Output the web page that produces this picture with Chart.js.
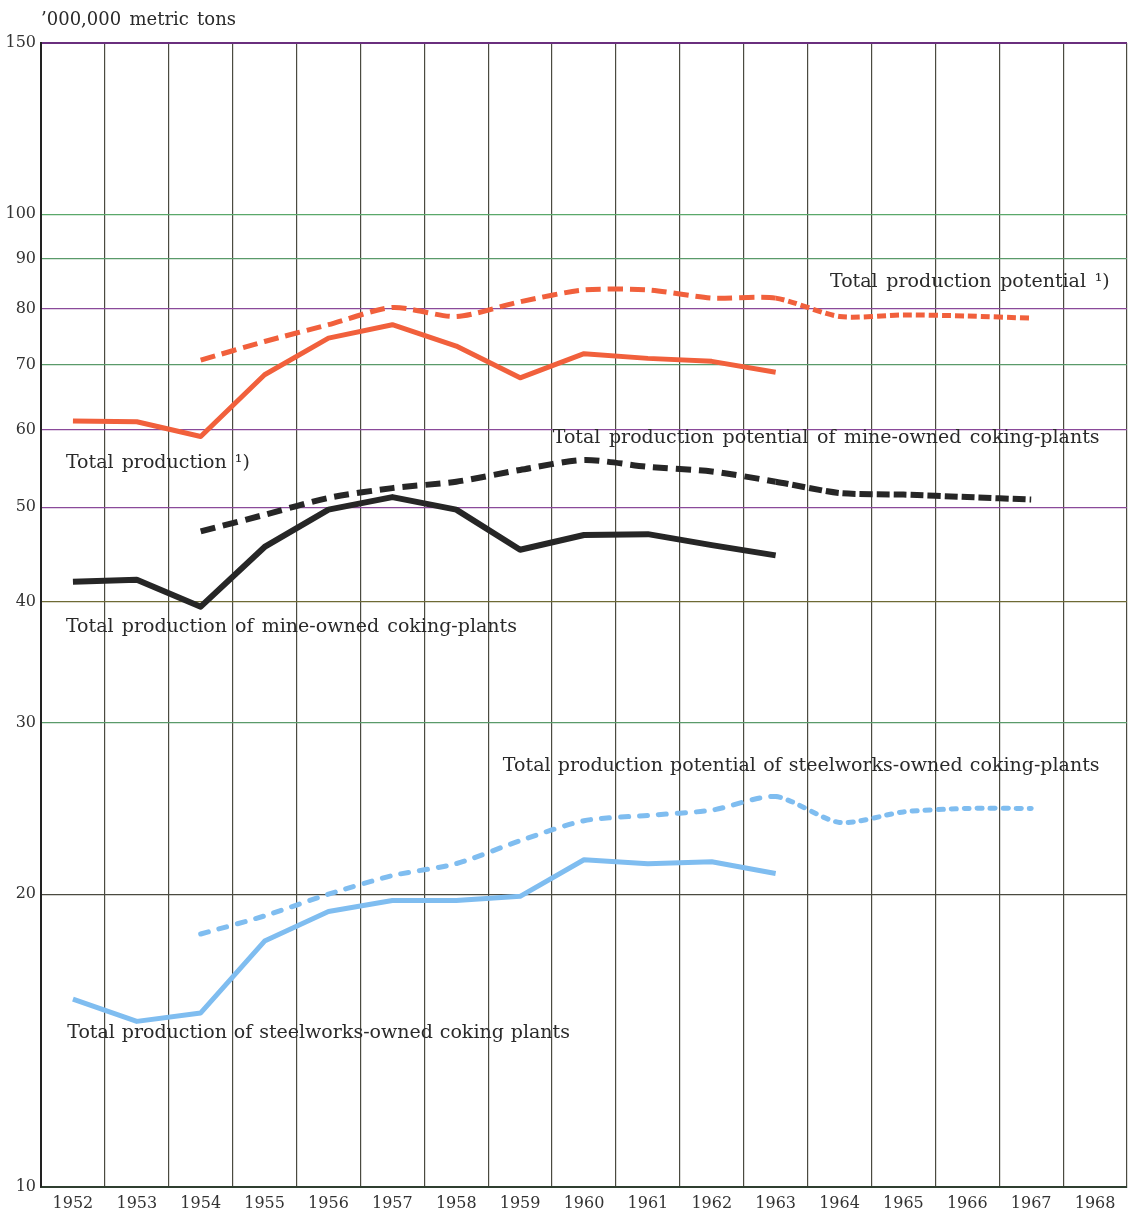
<!DOCTYPE html>
<html>
<head>
<meta charset="utf-8">
<script src="https://cdn.jsdelivr.net/npm/chart.js@4/dist/chart.umd.min.js"></script>
<style>
  html, body { margin: 0; padding: 0; background: #ffffff; }
  #wrap { width: 1129px; height: 1214px; position: relative; }
</style>
</head>
<body>
<div id="wrap"><canvas id="coke" width="1129" height="1214"></canvas></div>
<script>
// Coke production and production potential, '000,000 metric tons (log scale)
const years = ['1952','1953','1954','1955','1956','1957','1958','1959','1960','1961','1962','1963','1964','1965','1966','1967','1968'];

const totalProduction   = [61.3, 61.2, 59.1, 68.4, 74.6, 77.0, 73.2, 67.9, 71.9, 71.1, 70.6, 68.8, null, null, null, null, null];
const totalPotential    = [null, null, 70.8, 74.0, 77.0, 80.2, 78.5, 81.3, 83.6, 83.6, 82.0, 82.0, 78.5, 78.8, 78.6, 78.2, null];
const mineProduction    = [41.9, 42.1, 39.5, 45.5, 49.7, 51.2, 49.7, 45.2, 46.8, 46.9, 45.7, 44.6, null, null, null, null, null];
const minePotential     = [null, null, 47.2, 49.1, 51.1, 52.3, 53.1, 54.6, 55.9, 55.0, 54.4, 53.1, 51.7, 51.5, 51.2, 50.9, null];
const steelProduction   = [15.6, 14.8, 15.1, 17.9, 19.2, 19.7, 19.7, 19.9, 21.7, 21.5, 21.6, 21.0, null, null, null, null, null];
const steelPotential    = [null, null, 18.2, 19.0, 20.0, 20.9, 21.5, 22.7, 23.8, 24.1, 24.4, 25.2, 23.7, 24.3, 24.5, 24.5, null];

const yTicks = [10, 20, 30, 40, 50, 60, 70, 80, 90, 100, 150];
const unitLabel = '\u2019000,000 metric tons';

// Series captions, placed in data coordinates (category index span, value)
const captionText = [
  'Total production potential \u00b9)',
  'Total production \u00b9)',
  'Total production potential of mine-owned coking-plants',
  'Total production of mine-owned coking-plants',
  'Total production potential of steelworks-owned coking-plants',
  'Total production of steelworks-owned coking plants'
];
const captionFrom  = [11.85, -0.11, 7.51, -0.11, 6.73, -0.09];
const captionTo    = [16.23,  2.77, 16.07, 6.95, 16.07, 7.78];
const captionValue = [85.2, 55.5, 58.9, 37.6, 27.1, 14.4];

const RED = '#f1603c';
const BLACK = '#262626';
const BLUE = '#7fbdf0';
const SERIF = '"DejaVu Serif", "Liberation Serif", serif';

// horizontal rule colours per tick value
const gridColour = {
  10: '#3c4a3a', 20: '#4a4a40', 30: '#5a9a6a', 40: '#6e6a34', 50: '#8a4a9a',
  60: '#8a4a9a', 70: '#5a9a6a', 80: '#8a4a9a', 90: '#5a9a6a', 100: '#5aa86a', 150: '#6a2f7e'
};

function drawSpread(ctx, text, x0, x1, y) {
  const words = text.split(' ');
  const widths = words.map(w => ctx.measureText(w).width);
  const total = widths.reduce((a, b) => a + b, 0);
  const gaps = words.length - 1;
  const gap = gaps > 0 ? Math.max(ctx.measureText(' ').width * 0.8, (x1 - x0 - total) / gaps) : 0;
  let x = x0;
  words.forEach((w, i) => {
    ctx.fillText(w, x, y);
    x += widths[i] + gap;
  });
}

const captions = {
  id: 'captions',
  afterDraw(chart) {
    const { ctx, scales: { x, y } } = chart;
    ctx.save();
    ctx.fillStyle = '#2a2a2a';
    ctx.textBaseline = 'middle';
    ctx.textAlign = 'left';
    ctx.font = '19px ' + SERIF;
    captionText.forEach((t, i) => {
      drawSpread(ctx, t, x.getPixelForValue(captionFrom[i]), x.getPixelForValue(captionTo[i]), y.getPixelForValue(captionValue[i]));
    });
    ctx.font = '18px ' + SERIF;
    ctx.textBaseline = 'alphabetic';
    drawSpread(ctx, unitLabel, chart.chartArea.left, chart.chartArea.left + 195, 25);
    ctx.restore();
  }
};

function line(label, data, colour, width, dash, lateDash, cap) {
  return {
    label, data,
    borderColor: colour,
    backgroundColor: colour,
    borderWidth: width,
    borderDash: dash || [],
    borderCapStyle: cap || 'butt',
    borderJoinStyle: 'round',
    pointRadius: 0,
    tension: dash ? 0.25 : 0,
    fill: false,
    segment: lateDash ? { borderDash: c => (c.p0DataIndex >= 11 ? lateDash : dash) } : undefined
  };
}

new Chart(document.getElementById('coke'), {
  type: 'line',
  data: {
    labels: years,
    datasets: [
      line('Total production potential', totalPotential, RED, 5, [15, 7], [9, 4]),
      line('Total production', totalProduction, RED, 5),
      line('Total production potential of mine-owned coking-plants', minePotential, BLACK, 6, [15, 8], [13, 4]),
      line('Total production of mine-owned coking-plants', mineProduction, BLACK, 6),
      line('Total production potential of steelworks-owned coking-plants', steelPotential, BLUE, 5, [8, 11], [5, 8], 'round'),
      line('Total production of steelworks-owned coking plants', steelProduction, BLUE, 5)
    ]
  },
  options: {
    responsive: false,
    animation: false,
    devicePixelRatio: 1,
    layout: { padding: { top: 43, right: 2, left: 0, bottom: 0 } },
    plugins: { legend: { display: false }, tooltip: { enabled: false }, title: { display: false } },
    scales: {
      x: {
        type: 'category',
        offset: true,
        grid: { offset: true, color: '#4a4a40', lineWidth: 1.2, drawTicks: false },
        border: { color: '#2f3f30', width: 2 },
        ticks: { color: '#333', font: { family: SERIF, size: 16 }, padding: 7, maxRotation: 0, autoSkip: false },
        afterFit(s) { s.height = 27; }
      },
      y: {
        type: 'logarithmic',
        min: 10,
        max: 150,
        afterBuildTicks(s) { s.ticks = yTicks.map(v => ({ value: v })); },
        grid: {
          drawTicks: false,
          color: c => gridColour[c.tick && c.tick.value] || '#555',
          lineWidth: c => (c.tick && c.tick.value === 150 ? 2 : 1.2)
        },
        border: { color: '#222', width: 2 },
        ticks: {
          color: '#333',
          font: { family: SERIF, size: 16 },
          padding: 5,
          callback: v => String(v)
        },
        afterFit(s) { s.width = 41; }
      }
    }
  },
  plugins: [captions]
});
</script>
</body>
</html>
